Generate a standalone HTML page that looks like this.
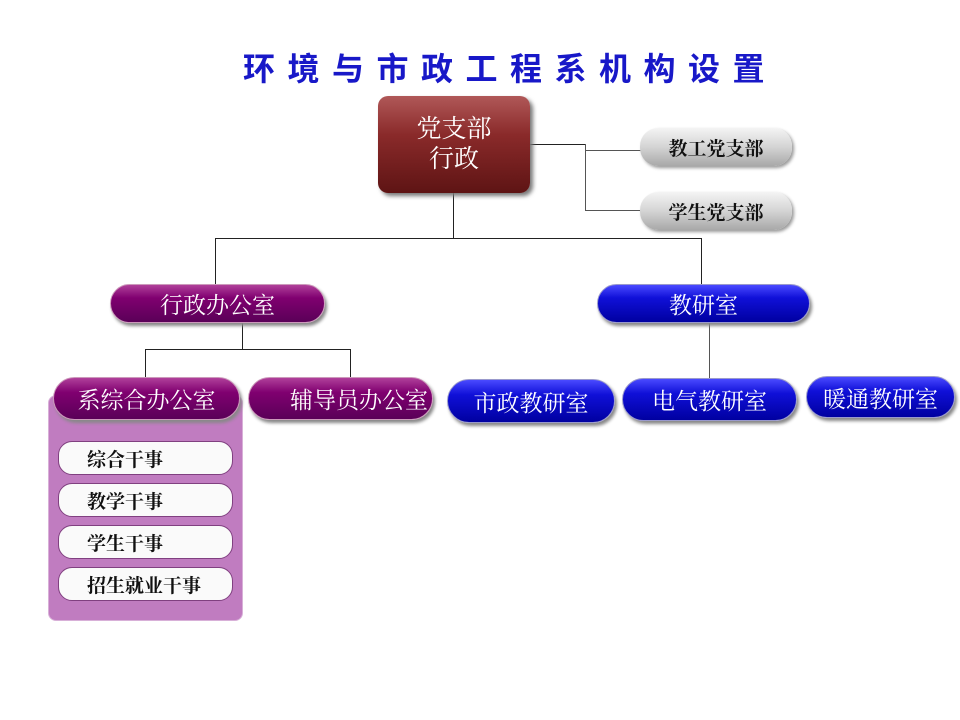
<!DOCTYPE html>
<html><head><meta charset="utf-8"><style>
body{margin:0;width:960px;height:720px;background:#fff;position:relative;overflow:hidden;font-family:"Liberation Serif","Noto Serif CJK SC",serif;}
.a{position:absolute;box-sizing:border-box;}
.t{display:flex;align-items:center;justify-content:center;white-space:nowrap;}
.ln{position:absolute;background:#222;}
.pur{background:linear-gradient(#b0409a 0%,#800070 35%,#5a0058 100%);color:#fff;border-radius:20px;font-size:23px;box-shadow:2px 3px 3px #888;border:1px solid #c9b;}
.blu{background:linear-gradient(#4a4aff 0%,#1010d8 35%,#0000a0 100%);color:#fff;border-radius:20px;font-size:23px;box-shadow:2px 3px 3px #888;border:1px solid #99c;}
.gry{background:linear-gradient(#f4f4f4 0%,#d4d4d4 50%,#a8a8a8 100%);color:#111;border-radius:18px;font-size:19px;font-weight:bold;box-shadow:2px 2px 3px #999;}
.wht{background:#fafafa;border:1px solid #804080;border-radius:14px;color:#111;font-size:19px;font-weight:bold;justify-content:flex-start;padding-left:28px;}
</style></head><body>
<div class="a" style="left:243px;top:44px;font-size:32px;font-weight:bold;color:#1818c8;letter-spacing:12.5px;font-family:'Liberation Sans','Noto Sans CJK SC',sans-serif;">环境与市政工程系机构设置</div>

<!-- lines -->
<div class="ln" style="left:530px;top:144px;width:55px;height:1px"></div>
<div class="ln" style="left:585px;top:144px;width:1px;height:67px;background:#555"></div>
<div class="ln" style="left:585px;top:150px;width:56px;height:1px;background:#555"></div>
<div class="ln" style="left:585px;top:210px;width:56px;height:1px;background:#555"></div>
<div class="ln" style="left:453px;top:193px;width:1px;height:46px"></div>
<div class="ln" style="left:215px;top:238px;width:487px;height:1px"></div>
<div class="ln" style="left:215px;top:238px;width:1px;height:47px"></div>
<div class="ln" style="left:701px;top:238px;width:1px;height:47px"></div>
<div class="ln" style="left:242px;top:323px;width:1px;height:27px"></div>
<div class="ln" style="left:145px;top:349px;width:206px;height:1px"></div>
<div class="ln" style="left:145px;top:349px;width:1px;height:29px"></div>
<div class="ln" style="left:350px;top:349px;width:1px;height:29px"></div>
<div class="ln" style="left:709px;top:323px;width:1px;height:56px;background:#555"></div>

<!-- top -->
<div class="a t" style="left:378px;top:96px;width:152px;height:97px;border-radius:10px;background:linear-gradient(#b05858 0%,#8a2a2a 40%,#5e1414 100%);color:#fff;font-size:25px;line-height:30px;text-align:center;box-shadow:3px 3px 4px #777;flex-direction:column;">党支部<br>行政</div>
<div class="a t gry" style="left:640px;top:128px;width:152px;height:38px">教工党支部</div>
<div class="a t gry" style="left:640px;top:192px;width:152px;height:38px">学生党支部</div>

<div class="a t pur" style="left:110px;top:284px;width:215px;height:39px">行政办公室</div>
<div class="a t blu" style="left:597px;top:284px;width:213px;height:39px">教研室</div>

<!-- panel -->
<div class="a" style="left:48px;top:395px;width:195px;height:226px;background:#c07cc0;border:1px solid #d8b0d8;border-radius:8px;"></div>
<div class="a t pur" style="left:53px;top:377px;width:187px;height:43px;border-radius:22px">系综合办公室</div>
<div class="a t pur" style="left:248px;top:377px;width:185px;height:43px;border-radius:22px;justify-content:flex-end;padding-right:4px">辅导员办公室</div>
<div class="a t wht" style="left:58px;top:441px;width:175px;height:34px">综合干事</div>
<div class="a t wht" style="left:58px;top:483px;width:175px;height:34px">教学干事</div>
<div class="a t wht" style="left:58px;top:525px;width:175px;height:34px">学生干事</div>
<div class="a t wht" style="left:58px;top:567px;width:175px;height:34px">招生就业干事</div>

<div class="a t blu" style="left:447px;top:379px;width:168px;height:44px;border-radius:22px">市政教研室</div>
<div class="a t blu" style="left:622px;top:378px;width:175px;height:43px;border-radius:22px">电气教研室</div>
<div class="a t blu" style="left:806px;top:376px;width:149px;height:42px;border-radius:21px">暖通教研室</div>
</body></html>
